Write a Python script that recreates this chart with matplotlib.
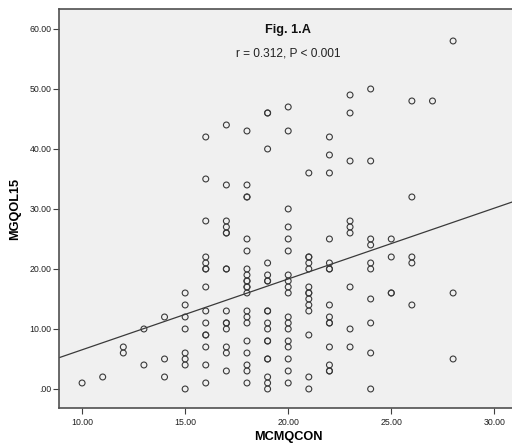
import numpy as np
import matplotlib.pyplot as plt

# MCMQCON value -> list of MGQOL15 values (repeats = overlapping points)
mcmqcon = [10, 11, 12, 13, 14, 15, 16, 17, 18, 19, 20, 21, 22, 23, 24, 25, 26, 27, 28]
mgqol15 = [
    [1],
    [2],
    [7, 6],
    [10, 4],
    [12, 5, 2],
    [16, 14, 12, 10, 6, 5, 4, 0],
    [42, 35, 28, 22, 21, 20, 20, 17, 13, 11, 9, 9, 7, 4, 1],
    [44, 34, 28, 27, 26, 26, 20, 20, 13, 11, 11, 10, 7, 6, 3],
    [43, 34, 32, 32, 25, 23, 20, 19, 18, 18, 17, 17, 16, 13, 12, 11, 8, 6, 4, 3, 1],
    [46, 46, 40, 21, 19, 18, 18, 13, 13, 11, 10, 8, 8, 5, 5, 2, 1, 0],
    [47, 43, 30, 27, 25, 23, 19, 18, 17, 16, 12, 11, 10, 8, 7, 5, 3, 1],
    [36, 22, 22, 21, 20, 17, 16, 16, 15, 14, 13, 9, 2, 0],
    [42, 39, 36, 25, 21, 20, 20, 14, 12, 11, 11, 7, 4, 3, 3],
    [49, 46, 38, 28, 27, 26, 17, 10, 7],
    [50, 38, 25, 24, 21, 20, 15, 11, 6, 0],
    [25, 22, 16, 16],
    [48, 32, 22, 21, 14],
    [48],
    [58, 16, 5],
]
x_ticks = [10, 15, 20, 25, 30]
y_ticks = [0, 10, 20, 30, 40, 50, 60]

x = []
y = []
for xv, ys in zip(mcmqcon, mgqol15):
    for yv in ys:
        x.append(xv)
        y.append(yv)
x = np.array(x, dtype=float)
y = np.array(y, dtype=float)

plt.rcParams['font.family'] = ['Liberation Sans', 'DejaVu Sans']

fig = plt.figure(figsize=(5.12, 4.47), dpi=100)
ax = fig.add_axes([59/512, 1 - 408/447, 458/512, 399/447])
ax.set_facecolor('#f0f0f0')

ax.scatter(x, y, s=18, facecolors='none', edgecolors='#3a3a3a', linewidths=0.8, zorder=3)

# least squares line through the points
b, a = np.polyfit(x, y, 1)
xl = np.array([8.88, 31.1])
ax.plot(xl, a + b * xl, color='#3a3a3a', linewidth=0.9, zorder=2)

ax.set_xlim(8.88, 31.1)
ax.set_ylim(-3.17, 63.33)
ax.set_xticks(x_ticks)
ax.set_yticks(y_ticks)
ax.set_xticklabels(['%.2f' % t for t in x_ticks], fontsize=6.3)
ax.set_yticklabels([('%.2f' % t) if t != 0 else '.00' for t in y_ticks], fontsize=6.3)
ax.tick_params(direction='out', length=4, width=0.8, color='#404040', labelcolor='#202020', pad=1.5)
ax.tick_params(axis='x', pad=3)
for s in ax.spines.values():
    s.set_color('#505050')
    s.set_linewidth(1.2)

ax.set_xlabel('MCMQCON', fontsize=9.2, fontweight='bold', labelpad=3)
ax.set_ylabel('MGQOL15', fontsize=9.2, fontweight='bold', labelpad=6)
ax.text(0.5, 0.948, 'Fig. 1.A', transform=ax.transAxes, ha='center', va='center',
        fontsize=9.2, fontweight='bold', color='#111111')
ax.text(0.5, 0.888, 'r = 0.312, P < 0.001', transform=ax.transAxes, ha='center', va='center',
        fontsize=8.6, color='#222222')

fig.savefig('out.png', dpi=100)
